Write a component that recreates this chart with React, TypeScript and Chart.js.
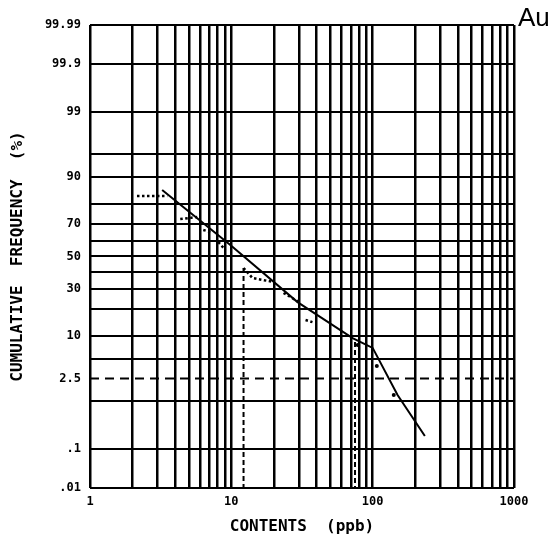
import React, { useEffect, useRef } from "react";
import { Chart, registerables, LinearScale } from "chart.js";

// ---------------- data ----------------
const ELEMENT_LABEL = "Au";
const X_TITLE = "CONTENTS  (ppb)";
const Y_TITLE = "CUMULATIVE  FREQUENCY  (%)";

// log grid: 1..9 per decade
const X_TICKS = [1, 2, 3, 4, 5, 6, 7, 8, 9, 10, 20, 30, 40, 50, 60, 70, 80, 90, 100, 200, 300, 400, 500, 600, 700, 800, 900, 1000];
const X_LABEL_VALUES = [1, 10, 100, 1000];

// probability grid
const Y_TICKS = [0.01, 0.1, 1, 2.5, 5, 10, 20, 30, 40, 50, 60, 70, 80, 90, 95, 99, 99.9, 99.99];
const Y_LABELS = [".01", ".1", "", "2.5", "", "10", "", "30", "", "50", "", "70", "", "90", "", "99", "99.9", "99.99"];

// fitted (solid) curve
const FIT_X = [3.24, 9.84, 29.4, 72.1, 100, 150, 234];
const FIT_P = [85.7, 57.3, 23.2, 9.5, 7.1, 1.3, 0.196];

// observed cumulative frequency (dotted runs, null = break)
const OBS_X = [2.15, 3.52, null, 4.35, 5.74, null, 6.33, 7.1, null, 8.09, 9.07, null, 12.2, 14.1, 19.9, null, 23.4, 30.8, null, 33.5, 37.5];
const OBS_P = [83.4, 83.4, null, 72.6, 73.7, null, 66.5, 65.3, null, 59.2, 54.1, null, 42.7, 36.5, 34.1, null, 27.9, 22.8, null, 15.4, 14.6];

// isolated observed points in the upper tail
const TAIL_X = [78.3, 107, 141];
const TAIL_P = [7.75, 3.93, 1.3];

// thresholds (dashed lines)
const CUTOFF_X = [12.2, 75];
const CUTOFF_P = [42.7, 8.5];
const THRESHOLD_P = 2.5;

// ---------------- probability scale ----------------
function normInv(p: number): number {
  const a = [-3.969683028665376e1, 2.209460984245205e2, -2.759285104469687e2, 1.38357751867269e2, -3.066479806614716e1, 2.506628277459239];
  const b = [-5.447609879822406e1, 1.615858368580409e2, -1.556989798598866e2, 6.680131188771972e1, -1.328068155288572e1];
  const c = [-7.784894002430293e-3, -3.223964580411365e-1, -2.400758277161838, -2.549732539343734, 4.374664141464968, 2.938163982698783];
  const d = [7.784695709041462e-3, 3.224671290700398e-1, 2.445134137142996, 3.754408661907416];
  const pl = 0.02425;
  if (p < pl) {
    const q = Math.sqrt(-2 * Math.log(p));
    return (((((c[0] * q + c[1]) * q + c[2]) * q + c[3]) * q + c[4]) * q + c[5]) / ((((d[0] * q + d[1]) * q + d[2]) * q + d[3]) * q + 1);
  }
  if (p <= 1 - pl) {
    const q = p - 0.5;
    const r = q * q;
    return ((((((a[0] * r + a[1]) * r + a[2]) * r + a[3]) * r + a[4]) * r + a[5]) * q) / (((((b[0] * r + b[1]) * r + b[2]) * r + b[3]) * r + b[4]) * r + 1);
  }
  const q = Math.sqrt(-2 * Math.log(1 - p));
  return -(((((c[0] * q + c[1]) * q + c[2]) * q + c[3]) * q + c[4]) * q + c[5]) / ((((d[0] * q + d[1]) * q + d[2]) * q + d[3]) * q + 1);
}

function normCdf(z: number): number {
  const x = Math.abs(z) / Math.SQRT2;
  const t = 1 / (1 + 0.3275911 * x);
  const y = 1 - ((((1.061405429 * t - 1.453152027) * t + 1.421413741) * t - 0.284496736) * t + 0.254829592) * t * Math.exp(-x * x);
  return 0.5 * (1 + (z >= 0 ? y : -y));
}

class ProbabilityScale extends LinearScale {
  static id = "probability";
  _zLo = -3.719;
  _zHi = 3.719;
  determineDataLimits() {
    const o: any = this.options;
    this.min = o.min ?? 0.01;
    this.max = o.max ?? 99.99;
  }
  buildTicks() {
    return Y_TICKS.map((v) => ({ value: v }));
  }
  configure() {
    super.configure();
    this._zLo = normInv(this.min / 100);
    this._zHi = normInv(this.max / 100);
  }
  getPixelForValue(v: any) {
    if (v === null || v === undefined || isNaN(v)) return NaN;
    const z = normInv(v / 100);
    return this.getPixelForDecimal((z - this._zLo) / (this._zHi - this._zLo));
  }
  getValueForPixel(px: number) {
    const d = this.getDecimalForPixel(px);
    return normCdf(this._zLo + d * (this._zHi - this._zLo)) * 100;
  }
}

Chart.register(...registerables, ProbabilityScale);

// ---------------- helpers ----------------
function pts(xs: (number | null)[], ps: (number | null)[]) {
  const out: { x: number; y: number | null }[] = [];
  let lastX = xs[0] as number;
  xs.forEach((x, i) => {
    if (x === null || ps[i] === null) {
      out.push({ x: lastX, y: null });
    } else {
      lastX = x;
      out.push({ x, y: ps[i] });
    }
  });
  return out;
}

const tickFont = { family: "'DejaVu Sans Mono', monospace", size: 12, weight: "bold" as const };
const titleFont = { family: "'DejaVu Sans Mono', monospace", size: 16, weight: "bold" as const };

const auLabel = {
  id: "auLabel",
  afterDraw(chart: any) {
    const ctx = chart.ctx;
    ctx.save();
    ctx.font = "26px 'Liberation Sans', Arial, sans-serif";
    ctx.fillStyle = "#000";
    ctx.textBaseline = "alphabetic";
    ctx.textAlign = "left";
    ctx.fillText(ELEMENT_LABEL, chart.chartArea.right + 4, chart.chartArea.top + 1);
    ctx.restore();
  },
};

export default function App() {
  const ref = useRef<HTMLCanvasElement>(null);

  useEffect(() => {
    const datasets: any[] = [
      {
        label: "fit",
        data: pts(FIT_X, FIT_P),
        borderColor: "#000",
        borderWidth: 2,
        pointRadius: 0,
        tension: 0,
      },
      {
        label: "observed",
        data: pts(OBS_X, OBS_P),
        borderColor: "#000",
        borderWidth: 2.5,
        borderDash: [2.5, 2.5],
        pointRadius: 0,
        tension: 0,
        spanGaps: false,
      },
      {
        label: "tail",
        data: pts(TAIL_X, TAIL_P),
        showLine: false,
        pointRadius: 2,
        pointBackgroundColor: "#000",
        pointBorderColor: "#000",
        pointBorderWidth: 0,
      },
      {
        label: "threshold",
        data: [
          { x: X_TICKS[0], y: THRESHOLD_P },
          { x: X_TICKS[X_TICKS.length - 1], y: THRESHOLD_P },
        ],
        borderColor: "#000",
        borderWidth: 2,
        borderDash: [9, 6],
        pointRadius: 0,
      },
      ...CUTOFF_X.map((x, i) => ({
        label: "cutoff" + i,
        data: [
          { x, y: CUTOFF_P[i] },
          { x, y: Y_TICKS[0] },
        ],
        borderColor: "#000",
        borderWidth: 2,
        borderDash: [5, 3],
        pointRadius: 0,
      })),
    ];

    const chart = new Chart(ref.current as HTMLCanvasElement, {
      type: "line",
      data: { datasets },
      plugins: [auLabel],
      options: {
        animation: false,
        responsive: false,
        events: [],
        layout: { padding: { top: 25, right: 41, left: 0, bottom: 0 } },
        plugins: { legend: { display: false }, tooltip: { enabled: false } },
        scales: {
          x: {
            type: "logarithmic",
            min: 1,
            max: 1000,
            afterBuildTicks: (s: any) => {
              s.ticks = X_TICKS.map((v) => ({ value: v }));
            },
            afterFit: (s: any) => {
              s.height = 50;
            },
            ticks: {
              autoSkip: false,
              maxRotation: 0,
              padding: 7,
              color: "#000",
              font: tickFont,
              callback: (v: any) => (X_LABEL_VALUES.includes(Number(v)) ? String(v) : ""),
            },
            grid: { color: "#000", lineWidth: 2.5, drawTicks: false },
            border: { display: false },
            title: { display: true, text: X_TITLE, color: "#000", font: titleFont, padding: { top: 0, bottom: 2 } },
          },
          y: {
            type: "probability" as any,
            position: "left",
            min: 0.01,
            max: 99.99,
            afterFit: (s: any) => {
              s.width = 90;
            },
            ticks: {
              autoSkip: false,
              padding: 9,
              color: "#000",
              font: tickFont,
              callback: (v: any) => {
                const i = Y_TICKS.indexOf(Number(v));
                return i >= 0 ? Y_LABELS[i] : "";
              },
            },
            grid: {
              color: (ctx: any) => (ctx.tick && ctx.tick.value === THRESHOLD_P ? "rgba(0,0,0,0)" : "#000"),
              lineWidth: 2,
              drawTicks: false,
            },
            border: { display: false },
            title: { display: true, text: Y_TITLE, color: "#000", font: titleFont, padding: { top: 8, bottom: 0 } },
          } as any,
        },
      } as any,
    });
    return () => chart.destroy();
  }, []);

  return (
    <div style={{ position: "absolute", left: 0, top: 0, width: 555, height: 538, background: "#fff" }}>
      <canvas ref={ref} width={555} height={538} style={{ display: "block", width: 555, height: 538 }} />
    </div>
  );
}
